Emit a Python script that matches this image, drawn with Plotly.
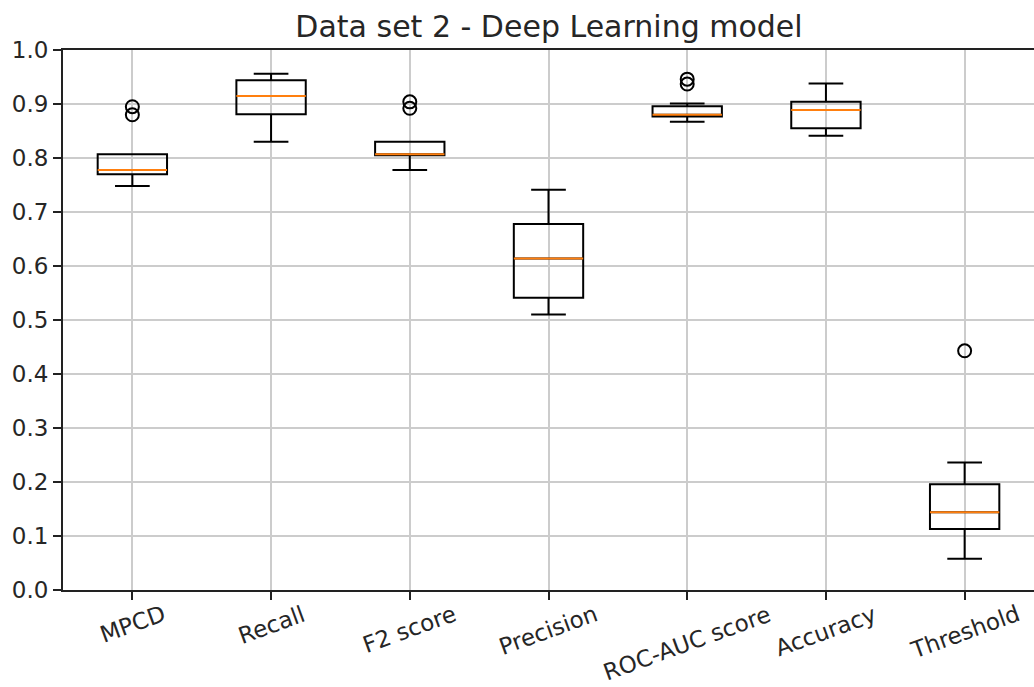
import plotly.graph_objects as go

categories = ["MPCD", "Recall", "F2 score", "Precision", "ROC-AUC score", "Accuracy", "Threshold"]
positions = [1, 2, 3, 4, 5, 6, 7]
q1 = [0.770, 0.881, 0.805, 0.541, 0.877, 0.855, 0.113]
median = [0.778, 0.915, 0.807, 0.614, 0.880, 0.889, 0.144]
q3 = [0.807, 0.944, 0.830, 0.678, 0.896, 0.904, 0.196]
lower_whisker = [0.748, 0.830, 0.778, 0.510, 0.867, 0.841, 0.058]
upper_whisker = [0.807, 0.956, 0.830, 0.741, 0.901, 0.938, 0.236]
outlier_pos = [1, 1, 3, 3, 5, 5, 7]
outlier_vals = [0.895, 0.880, 0.904, 0.892, 0.946, 0.937, 0.443]
y_ticks = [0.0, 0.1, 0.2, 0.3, 0.4, 0.5, 0.6, 0.7, 0.8, 0.9, 1.0]

FONT = "DejaVu Sans"
SPINE = "#222222"
GRID = "#cccccc"

fig = go.Figure()

# boxes + whiskers + caps
fig.add_trace(go.Box(
    x=positions, q1=q1, median=median, q3=q3,
    lowerfence=lower_whisker, upperfence=upper_whisker,
    width=0.5, whiskerwidth=0.5,
    line=dict(color="black", width=2),
    fillcolor="rgba(0,0,0,0)",
    boxpoints=False, showlegend=False, hoverinfo="skip",
))

# orange median lines
fig.add_trace(go.Box(
    x=positions, q1=median, median=median, q3=median,
    lowerfence=median, upperfence=median,
    width=0.5, whiskerwidth=0.0,
    line=dict(color="#ff7f0e", width=2),
    fillcolor="rgba(0,0,0,0)",
    boxpoints=False, showlegend=False, hoverinfo="skip",
))

# outliers
fig.add_trace(go.Scatter(
    x=outlier_pos, y=outlier_vals, mode="markers",
    marker=dict(symbol="circle-open", size=13, color="black", line=dict(width=2)),
    showlegend=False, hoverinfo="skip",
))

annotations = []
for p, c in zip(positions, categories):
    annotations.append(dict(
        x=p, xref="x", y=0, yref="paper",
        text=c, showarrow=False, textangle=-20,
        xanchor="center", yanchor="top", yshift=-8,
        font=dict(family=FONT, size=23, color="#262626"),
    ))

fig.update_layout(
    width=1034, height=687,
    margin=dict(l=63, r=0, t=50, b=97),
    paper_bgcolor="white", plot_bgcolor="white",
    boxmode="overlay",
    font=dict(family=FONT, size=23, color="#262626"),
    title=dict(
        text="Data set 2 - Deep Learning model",
        x=(63 + 1035) / 2 / 1034, xanchor="center",
        y=1, yref="paper", yanchor="bottom",
        pad=dict(b=13),
        font=dict(family=FONT, size=30, color="#262626"),
    ),
    annotations=annotations,
)

fig.update_xaxes(
    range=[0.5, 7.5], tickvals=positions, showticklabels=False,
    ticks="outside", ticklen=8, tickwidth=2, tickcolor=SPINE,
    showline=True, linecolor=SPINE, linewidth=2, mirror=True,
    showgrid=True, gridcolor=GRID, gridwidth=1.5, zeroline=False,
)
fig.update_yaxes(
    range=[0, 1.0], tickvals=y_ticks, tickformat=".1f",
    ticks="outside", ticklen=8, tickwidth=2, tickcolor=SPINE,
    showline=True, linecolor=SPINE, linewidth=2, mirror=False,
    showgrid=True, gridcolor=GRID, gridwidth=1.5, zeroline=False,
    tickfont=dict(family=FONT, size=23, color="#262626"),
)

fig.write_html("out.html")
